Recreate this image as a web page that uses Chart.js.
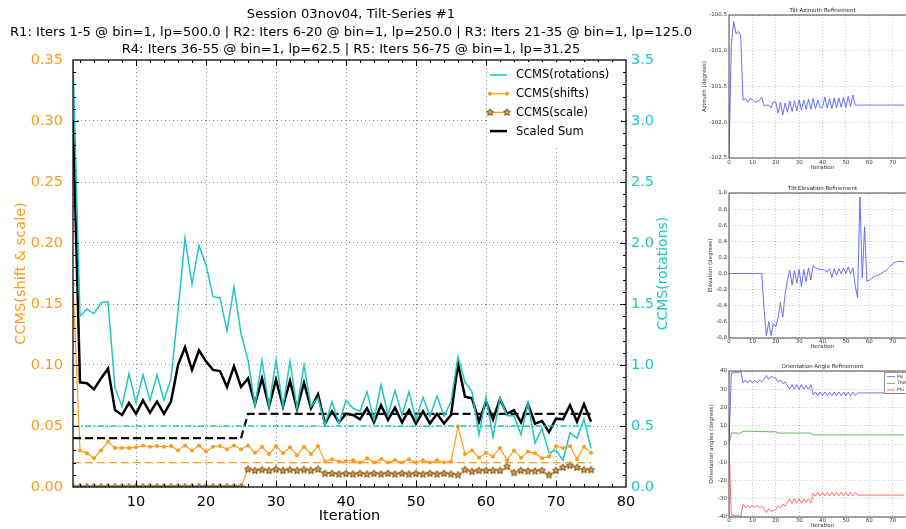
<!DOCTYPE html>
<html>
<head>
<meta charset="utf-8">
<script src="https://cdn.jsdelivr.net/npm/chart.js@4.4.1/dist/chart.umd.min.js"></script>
<style>
html, body { margin: 0; padding: 0; background: #fff; overflow: hidden; width: 906px; height: 529px; }
canvas { position: absolute; }
#main { left: 0; top: 0; }
#az { left: 690px; top: 0; }
#el { left: 690px; top: 178px; }
#or { left: 690px; top: 356px; }
</style>
</head>
<body>
<canvas id="main" width="700" height="529"></canvas>
<canvas id="az" width="232" height="174"></canvas>
<canvas id="el" width="232" height="172"></canvas>
<canvas id="or" width="232" height="173"></canvas>
<script>
// ---- main chart data (iterations 1..75) ----
var titleLines = [
    'Session 03nov04, Tilt-Series #1',
    'R1: Iters 1-5 @ bin=1, lp=500.0 | R2: Iters 6-20 @ bin=1, lp=250.0 | R3: Iters 21-35 @ bin=1, lp=125.0',
    'R4: Iters 36-55 @ bin=1, lp=62.5 | R5: Iters 56-75 @ bin=1, lp=31.25'
];
var iterations = Array.from({length: 75}, function(_, i) { return i + 1; });

var rotations = [3.50, 1.40, 1.46, 1.42, 1.51, 1.52, 0.81, 0.66, 0.93, 0.69,
    0.92, 0.71, 0.92, 0.71, 0.89, 1.44, 2.04, 1.66, 1.98, 1.82,
    1.56, 1.55, 1.28, 1.64, 1.26, 1.04, 0.67, 1.04, 0.66, 1.04,
    0.66, 1.03, 0.645, 1.00, 0.66, 0.73, 0.51, 0.70, 0.52, 0.71,
    0.645, 0.62, 0.78, 0.55, 0.84, 0.59, 0.79, 0.59, 0.78, 0.55,
    0.735, 0.58, 0.745, 0.58, 0.70, 1.07, 0.86, 0.78, 0.43, 0.74,
    0.41, 0.73, 0.585, 0.585, 0.43, 0.69, 0.36, 0.48, 0.28, 0.30,
    0.22, 0.445, 0.40, 0.557, 0.317];

var shifts = [0.166, 0.030, 0.0276, 0.0235, 0.030, 0.037, 0.032, 0.032, 0.032, 0.0325,
    0.034, 0.033, 0.0336, 0.033, 0.0336, 0.030, 0.034, 0.030, 0.034, 0.029,
    0.033, 0.0336, 0.031, 0.034, 0.031, 0.034, 0.028, 0.033, 0.027, 0.0336,
    0.0276, 0.0325, 0.026, 0.033, 0.027, 0.0336, 0.021, 0.0227, 0.021, 0.0213,
    0.022, 0.020, 0.0235, 0.020, 0.023, 0.020, 0.022, 0.020, 0.0227, 0.020,
    0.022, 0.020, 0.022, 0.020, 0.021, 0.0495, 0.027, 0.030, 0.024, 0.028,
    0.025, 0.032, 0.022, 0.030, 0.024, 0.029, 0.0276, 0.0235, 0.025, 0.0336,
    0.032, 0.0336, 0.0227, 0.033, 0.028];

var scale = [0, 0, 0, 0, 0, 0, 0, 0, 0, 0,
    0, 0, 0, 0, 0, 0, 0, 0, 0, 0,
    0, 0, 0, 0, 0, 0.0145, 0.0134, 0.014, 0.0134, 0.0145,
    0.0134, 0.014, 0.0134, 0.014, 0.0134, 0.0145, 0.011, 0.011, 0.0105, 0.011,
    0.0105, 0.011, 0.0105, 0.011, 0.0105, 0.011, 0.0105, 0.011, 0.0105, 0.011,
    0.0105, 0.011, 0.0105, 0.011, 0.0105, 0.0098, 0.014, 0.0126, 0.0134, 0.0134,
    0.0134, 0.0134, 0.0167, 0.0117, 0.0134, 0.013, 0.013, 0.0134, 0.0098, 0.0134,
    0.016, 0.0175, 0.016, 0.014, 0.014];

var scaledSum = [0.300, 0.0858, 0.085, 0.080, 0.089, 0.097, 0.063, 0.059, 0.069, 0.060,
    0.071, 0.061, 0.070, 0.060, 0.070, 0.100, 0.1145, 0.096, 0.112, 0.103,
    0.096, 0.095, 0.082, 0.099, 0.082, 0.089, 0.068, 0.089, 0.066, 0.088,
    0.066, 0.087, 0.064, 0.0855, 0.0645, 0.076, 0.052, 0.062, 0.053, 0.060,
    0.059, 0.0555, 0.0645, 0.053, 0.067, 0.055, 0.065, 0.053, 0.063, 0.052,
    0.062, 0.052, 0.060, 0.052, 0.059, 0.101, 0.074, 0.0727, 0.0535, 0.070,
    0.0555, 0.072, 0.060, 0.063, 0.053, 0.068, 0.052, 0.054, 0.045, 0.056,
    0.0555, 0.067, 0.0535, 0.068, 0.0535];

// target levels, as start/end points
var rotTargetX = [1, 75], rotTargetY = [0.5, 0.5];
var shiftTargetX = [1, 75], shiftTargetY = [0.02, 0.02];
var sumTargetX = [1, 25, 26, 75], sumTargetY = [0.04, 0.04, 0.06, 0.06];

var xTicks = [10, 20, 30, 40, 50, 60, 70, 80];
var leftTicks = [0, 0.05, 0.10, 0.15, 0.20, 0.25, 0.30, 0.35];
var rightTicks = [0, 0.5, 1.0, 1.5, 2.0, 2.5, 3.0, 3.5];

// ---- small refinement plots (iterations 0..75) ----
var smallIters = Array.from({length: 76}, function(_, i) { return i; });
var smallXTicks = [0, 10, 20, 30, 40, 50, 60, 70, 80];

var azimuth = [-102.5, -100.9, -100.59, -100.76, -100.73, -100.79, -101.69, -101.67, -101.72, -101.67,
    -101.68, -101.72, -101.71, -101.70, -101.65, -101.77, -101.76, -101.76, -101.80, -101.71,
    -101.72, -101.87, -101.72, -101.90, -101.73, -101.86, -101.70, -101.85, -101.70, -101.84,
    -101.69, -101.83, -101.69, -101.82, -101.68, -101.82, -101.67, -101.81, -101.69, -101.80,
    -101.79, -101.65, -101.80, -101.67, -101.81, -101.66, -101.80, -101.66, -101.79, -101.65,
    -101.79, -101.64, -101.78, -101.62, -101.76, -101.76, -101.76, -101.76, -101.76, -101.76,
    -101.76, -101.76, -101.76, -101.76, -101.76, -101.76, -101.76, -101.76, -101.76, -101.76,
    -101.76, -101.76, -101.76, -101.76, -101.76, -101.76];
var azTicks = [-102.5, -102.0, -101.5, -101.0, -100.5];

var elevation = [0, 0, 0, 0, 0, 0, 0, 0, 0, 0,
    0, 0, 0, 0, 0, -0.45, -0.77, -0.60, -0.77, -0.62,
    -0.66, -0.55, -0.36, -0.54, -0.26, -0.08, 0.04, -0.14, 0.04, -0.12,
    0.05, -0.16, 0.05, -0.10, 0.07, -0.08, 0.10, 0.07, 0.06, 0.05,
    0.05, 0.04, 0.02, 0.06, -0.05, 0.06, -0.02, 0.06, 0.00, 0.07,
    0.00, 0.08, 0.00, 0.07, -0.15, -0.30, 0.95, -0.05, 0.58, -0.10,
    -0.08, -0.06, -0.04, -0.02, -0.02, 0.00, 0.02, 0.03, 0.06, 0.09,
    0.12, 0.14, 0.15, 0.15, 0.15, 0.14];
var elTicks = [-0.8, -0.6, -0.4, -0.2, 0, 0.2, 0.4, 0.6, 0.8, 1.0];

var psi = [0, 39, 39, 39.5, 39, 40, 33.5, 35, 33.5, 35,
    33.5, 35, 33.5, 35, 34, 35.5, 37.5, 35.5, 37, 36.5,
    36, 34, 35, 33, 34, 32, 30, 32.5, 30, 32.5,
    30, 32.5, 30, 32, 30, 32.5, 27, 28.5, 26.5, 28.5,
    26.5, 28.5, 26.5, 28.5, 26.5, 28.5, 26.5, 28.5, 26.5, 28.5,
    26.5, 28.5, 26.5, 28.5, 26.5, 28, 28, 28, 28, 28,
    28, 28, 28, 28, 28, 28, 28, 28, 28, 28,
    28, 28, 28, 28, 28, 28];
var theta = [0, 6, 6, 6, 6, 6, 7, 7, 7, 7,
    7, 6.9, 6.9, 6.8, 6.8, 6.8, 6.8, 6.7, 6.7, 6.7,
    6.7, 6, 6, 6, 6, 6, 6, 6, 6, 6,
    6, 6, 6, 6, 6, 5.9, 5, 5, 5, 5,
    5, 5, 5, 5, 5, 5, 5, 5, 5, 5,
    5, 5, 5, 5, 5, 5, 5, 5, 5, 5,
    5, 5, 5, 5, 5, 5, 5, 5, 5, 5,
    5, 5, 5, 5, 5, 5];
var phi = [0, -39, -39, -39.5, -39, -40, -33, -35, -33.5, -35,
    -33.5, -35, -33.5, -35, -34, -35.5, -37.5, -35.5, -37, -36.5,
    -36, -34, -35, -33, -34, -32, -30, -32.5, -30, -32.5,
    -30, -32.5, -30, -32, -30, -32.5, -27, -28.5, -26.5, -28.5,
    -26.5, -28.5, -26.5, -28.5, -26.5, -28.5, -26.5, -28.5, -26.5, -28.5,
    -26.5, -28.5, -26.5, -28.5, -26.5, -28, -28, -28, -28, -28,
    -28, -28, -28, -28, -28, -28, -28, -28, -28, -28,
    -28, -28, -28, -28, -28, -28];
var orTicks = [-40, -30, -20, -10, 0, 10, 20, 30, 40];

// ---- styles ----
var orange = '#ff9a1a';
var cyan = '#1fc6c6';
var font = {family: 'DejaVu Sans', size: 14.5};
var sfont = {family: 'DejaVu Sans', size: 5.5};

function pts(xs, ys) {
    return ys.map(function(y, i) { return {x: xs[i], y: y}; });
}
function setTicks(list) {
    return function(s) { s.ticks = list.map(function(v) { return {value: v}; }); };
}

function makeStar(size, fill, stroke) {
    var c = document.createElement('canvas');
    c.width = c.height = size;
    var g = c.getContext('2d');
    var r = size / 2 - 0.8, cx = size / 2, cy = size / 2;
    g.beginPath();
    for (var i = 0; i < 10; i++) {
        var a = -Math.PI / 2 + i * Math.PI / 5;
        var rr = i % 2 ? r * 0.45 : r;
        g.lineTo(cx + rr * Math.cos(a), cy + rr * Math.sin(a));
    }
    g.closePath();
    g.fillStyle = fill;
    g.fill();
    g.strokeStyle = stroke;
    g.lineWidth = 0.9;
    g.stroke();
    return c;
}
var star = makeStar(9, '#f6a531', '#5a3810');

var gridOpts = {color: '#888', drawTicks: false, lineWidth: 1};
var borderOpts = {display: false, dash: [1, 3]};

var mainDecor = {
    id: 'mainDecor',
    afterDraw: function(chart) {
        var ctx = chart.ctx, a = chart.chartArea, sx = chart.scales.x, sy = chart.scales.y;
        ctx.save();
        // title
        ctx.fillStyle = '#000';
        ctx.font = '13.1px "DejaVu Sans"';
        ctx.textAlign = 'center';
        ctx.textBaseline = 'alphabetic';
        titleLines.forEach(function(t, i) { ctx.fillText(t, 351, 18 + i * 17.5); });

        // inward ticks
        ctx.strokeStyle = '#000';
        ctx.lineWidth = 1;
        ctx.beginPath();
        for (var v = 2; v < 80; v += 2) {
            var x = Math.round(sx.getPixelForValue(v)) + 0.5;
            var len = v % 10 === 0 ? 6 : 3;
            ctx.moveTo(x, a.bottom); ctx.lineTo(x, a.bottom - len);
            ctx.moveTo(x, a.top); ctx.lineTo(x, a.top + len);
        }
        for (var k = 1; k < 35; k++) {
            var y = Math.round(sy.getPixelForValue(k / 100)) + 0.5;
            var l2 = k % 5 === 0 ? 6 : 3;
            ctx.moveTo(a.left, y); ctx.lineTo(a.left + l2, y);
            ctx.moveTo(a.right, y); ctx.lineTo(a.right - l2, y);
        }
        ctx.stroke();
        ctx.lineWidth = 1.3;
        ctx.strokeStyle = '#111';
        ctx.strokeRect(a.left, a.top, a.right - a.left, a.bottom - a.top);

        // right axis title, reading bottom to top
        ctx.save();
        ctx.translate(663, (a.top + a.bottom) / 2);
        ctx.rotate(-Math.PI / 2);
        ctx.fillStyle = cyan;
        ctx.font = '14px "DejaVu Sans"';
        ctx.textBaseline = 'middle';
        ctx.fillText('CCMS(rotations)', 0, 0);
        ctx.restore();

        // legend
        ctx.fillStyle = '#fff';
        ctx.fillRect(487, a.top + 2, 134, 84);
        var items = [
            {t: 'CCMS(rotations)', c: cyan, w: 1.5},
            {t: 'CCMS(shifts)', c: orange, w: 1.2, dot: true},
            {t: 'CCMS(scale)', c: orange, w: 1.2, star: true},
            {t: 'Scaled Sum', c: '#000', w: 2.5}
        ];
        ctx.font = '11.5px "DejaVu Sans"';
        ctx.textAlign = 'left';
        ctx.textBaseline = 'middle';
        items.forEach(function(it, i) {
            var yy = 75 + i * 18.7;
            ctx.strokeStyle = it.c;
            ctx.lineWidth = it.w;
            ctx.beginPath();
            ctx.moveTo(490, yy); ctx.lineTo(507, yy);
            ctx.stroke();
            if (it.dot) {
                ctx.fillStyle = orange;
                [490, 507].forEach(function(px) {
                    ctx.beginPath(); ctx.arc(px, yy, 2, 0, Math.PI * 2); ctx.fill();
                });
            }
            if (it.star) {
                [490, 507].forEach(function(px) { ctx.drawImage(star, px - 4.5, yy - 4.5); });
            }
            ctx.fillStyle = '#000';
            ctx.fillText(it.t, 516, yy + 0.5);
        });
        ctx.restore();
    }
};

new Chart(document.getElementById('main'), {
    type: 'line',
    data: {
        datasets: [
            {label: 'CCMS(rotations)', data: pts(iterations, rotations), yAxisID: 'y2',
                borderColor: cyan, borderWidth: 1.5, pointRadius: 0},
            {label: 'rotTarget', data: pts(rotTargetX, rotTargetY), yAxisID: 'y2',
                borderColor: cyan, borderWidth: 1.6, borderDash: [6, 2.5, 1.5, 2.5], pointRadius: 0},
            {label: 'sumTarget', data: pts(sumTargetX, sumTargetY), yAxisID: 'y',
                borderColor: '#111', borderWidth: 2.2, borderDash: [8, 4], pointRadius: 0},
            {label: 'shiftTarget', data: pts(shiftTargetX, shiftTargetY), yAxisID: 'y',
                borderColor: orange, borderWidth: 1.3, borderDash: [8, 4], pointRadius: 0},
            {label: 'Scaled Sum', data: pts(iterations, scaledSum), yAxisID: 'y',
                borderColor: '#000', borderWidth: 2.5, pointRadius: 0},
            {label: 'CCMS(shifts)', data: pts(iterations, shifts), yAxisID: 'y',
                borderColor: orange, borderWidth: 1.2, pointRadius: 2,
                pointBackgroundColor: orange, pointBorderWidth: 0},
            {label: 'CCMS(scale)', data: pts(iterations, scale), yAxisID: 'y',
                borderColor: orange, borderWidth: 1.2, pointStyle: star, pointRadius: 4, clip: 0}
        ]
    },
    options: {
        responsive: false,
        animation: false,
        events: [],
        layout: {padding: {top: 60, left: 0, right: 0, bottom: 0}},
        plugins: {legend: {display: false}, tooltip: {enabled: false}},
        elements: {line: {tension: 0}},
        scales: {
            x: {
                type: 'linear', min: 1, max: 80,
                afterBuildTicks: setTicks(xTicks),
                ticks: {font: font, color: '#000', padding: 7, maxRotation: 0, autoSkip: false},
                grid: gridOpts, border: borderOpts,
                title: {display: true, text: 'Iteration', font: font, color: '#000', padding: {top: 0, bottom: 4}},
                afterFit: function(s) { s.height = 42; }
            },
            y: {
                position: 'left', min: 0, max: 0.35,
                afterBuildTicks: setTicks(leftTicks),
                ticks: {font: font, color: orange, padding: 10, callback: function(v) { return v.toFixed(2); }},
                grid: gridOpts, border: borderOpts,
                title: {display: true, text: 'CCMS(shift & scale)', font: font, color: orange, padding: {top: 13, bottom: 0}},
                afterFit: function(s) { s.width = 73; }
            },
            y2: {
                position: 'right', min: 0, max: 3.5,
                afterBuildTicks: setTicks(rightTicks),
                ticks: {font: font, color: cyan, padding: 5, callback: function(v) { return v.toFixed(1); }},
                grid: {display: false, drawTicks: false},
                border: {display: false},
                afterFit: function(s) { s.width = 74; }
            }
        }
    },
    plugins: [mainDecor]
});

// ---- small plots ----
function smallDecor(title, legend) {
    return {
        id: 'smallDecor',
        afterDraw: function(chart) {
            var ctx = chart.ctx, a = chart.chartArea;
            ctx.save();
            ctx.strokeStyle = '#222';
            ctx.lineWidth = 0.8;
            ctx.strokeRect(a.left, a.top, a.right - a.left, a.bottom - a.top);
            ctx.fillStyle = '#222';
            ctx.font = '5.5px "DejaVu Sans"';
            ctx.textAlign = 'center';
            ctx.textBaseline = 'bottom';
            ctx.fillText(title, (a.left + a.right) / 2, a.top - 1.5);
            if (legend) {
                ctx.fillStyle = '#fff';
                ctx.fillRect(194, 16, 40, 21);
                ctx.strokeStyle = '#555';
                ctx.lineWidth = 0.6;
                ctx.strokeRect(194.5, 16.5, 40, 21);
                ctx.font = '4.5px "DejaVu Sans"';
                ctx.textAlign = 'left';
                ctx.textBaseline = 'middle';
                legend.forEach(function(it, i) {
                    var yy = 20.7 + i * 6.6;
                    ctx.strokeStyle = it.c;
                    ctx.lineWidth = 0.9;
                    ctx.beginPath(); ctx.moveTo(197, yy); ctx.lineTo(205, yy); ctx.stroke();
                    ctx.fillStyle = '#222';
                    ctx.fillText(it.t, 207, yy);
                });
            }
            ctx.restore();
        }
    };
}

function smallChart(id, cfg) {
    return new Chart(document.getElementById(id), {
        type: 'line',
        data: {
            datasets: cfg.series.map(function(s) {
                return {data: pts(smallIters, s.values), borderColor: s.color, borderWidth: 0.9, pointRadius: 0};
            })
        },
        options: {
            responsive: false,
            animation: false,
            events: [],
            layout: {padding: {top: 15, right: 6, left: 0, bottom: 0}},
            plugins: {legend: {display: false}, tooltip: {enabled: false}},
            elements: {line: {tension: 0}},
            scales: {
                x: {
                    type: 'linear', min: 0, max: 80,
                    afterBuildTicks: setTicks(smallXTicks),
                    ticks: {font: sfont, color: '#333', padding: cfg.xpad, maxRotation: 0, autoSkip: false},
                    grid: {color: '#bbb', drawTicks: false, lineWidth: 0.8},
                    border: {display: false, dash: [1, 2]},
                    title: {display: true, text: 'Iteration', font: sfont, color: '#333', padding: {top: 0, bottom: cfg.xtp}},
                    afterFit: function(s) { s.height = cfg.xh; }
                },
                y: {
                    min: cfg.ticks[0], max: cfg.ticks[cfg.ticks.length - 1],
                    afterBuildTicks: setTicks(cfg.ticks),
                    ticks: {font: sfont, color: '#333', padding: 2, callback: cfg.fmt},
                    grid: {color: '#bbb', drawTicks: false, lineWidth: 0.8},
                    border: {display: false, dash: [1, 2]},
                    title: {display: true, text: cfg.ylabel, font: sfont, color: '#333', padding: {top: cfg.ytp, bottom: 0}},
                    afterFit: function(s) { s.width = 39; }
                }
            }
        },
        plugins: [smallDecor(cfg.title, cfg.legend)]
    });
}

var blue = '#5b5bff', green = '#4caf4c', red = '#ff5b5b';
var oneDec = function(v) { return v.toFixed(1); };
var noDec = function(v) { return v.toFixed(0); };

smallChart('az', {title: 'Tilt Azimuth Refinement', ylabel: 'Azimuth (degrees)',
    ticks: azTicks, fmt: oneDec, xh: 16, xpad: 1.7, xtp: 2.7, ytp: 11.7,
    series: [{values: azimuth, color: blue}]});
smallChart('el', {title: 'Tilt Elevation Refinement', ylabel: 'Elevation (degrees)',
    ticks: elTicks, fmt: oneDec, xh: 12, xpad: 0.7, xtp: 0, ytp: 17.7,
    series: [{values: elevation, color: blue}]});
smallChart('or', {title: 'Orientation Angle Refinement', ylabel: 'Orientation angles (degrees)',
    ticks: orTicks, fmt: noDec, xh: 12, xpad: 0, xtp: 0, ytp: 18.7,
    series: [{values: psi, color: blue}, {values: theta, color: green}, {values: phi, color: red}],
    legend: [{t: 'Psi', c: blue}, {t: 'Theta', c: green}, {t: 'Phi', c: red}]});
</script>
</body>
</html>
